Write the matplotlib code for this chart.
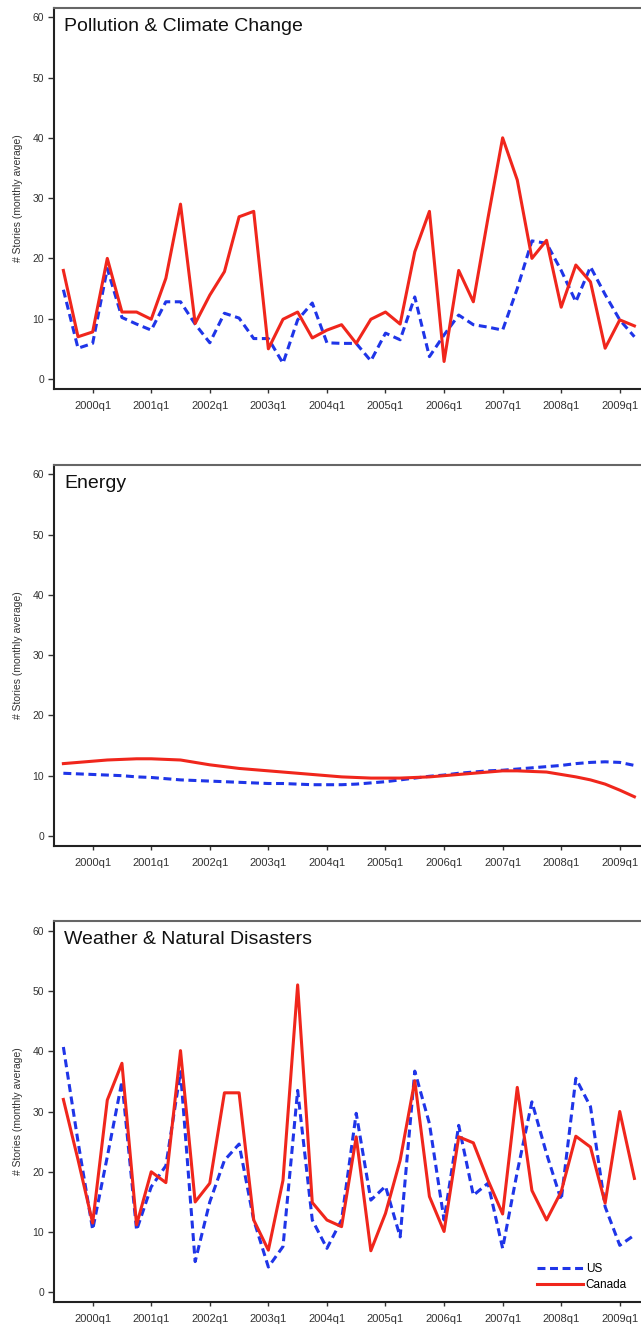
import numpy as np
import matplotlib
matplotlib.use("Agg")
import matplotlib.pyplot as plt

plt.rcParams['font.family'] = ['Liberation Sans', 'DejaVu Sans']

# quarters, 0 = 2000q1 (1999q3 .. 2009q2)
quarters = np.arange(-2, 38)
tick_pos = [0, 4, 8, 12, 16, 20, 24, 28, 32, 36]
tick_labels = ['2000q1', '2001q1', '2002q1', '2003q1', '2004q1',
               '2005q1', '2006q1', '2007q1', '2008q1', '2009q1']

titles = ['Pollution & Climate Change', 'Energy', 'Weather & Natural Disasters']

pollution_us = [14.8, 5.1, 5.9, 18.3, 10.2, 9.1, 8.1, 12.8, 12.8, 9.1,
                6.0, 10.9, 10.1, 6.7, 6.7, 2.6, 9.8, 12.6, 6.0, 5.9,
                5.9, 3.0, 7.6, 6.5, 13.6, 3.7, 7.3, 10.6, 9.0, 8.6,
                8.1, 15.0, 22.9, 22.5, 18.0, 12.8, 18.6, 14.0, 9.8, 7.0]
pollution_ca = [18.0, 7.0, 7.8, 20.0, 11.1, 11.1, 9.9, 16.7, 29.0, 9.2,
                13.9, 17.8, 26.9, 27.8, 5.0, 9.9, 11.1, 6.8, 8.1, 9.0,
                5.9, 9.9, 11.1, 9.1, 21.1, 27.8, 2.9, 18.0, 12.8, 26.7,
                40.0, 33.0, 20.0, 23.0, 11.9, 18.9, 16.1, 5.1, 9.8, 8.8]

energy_us = [10.4, 10.3, 10.2, 10.1, 10.0, 9.8, 9.7, 9.5, 9.3, 9.2,
             9.1, 9.0, 8.9, 8.8, 8.7, 8.7, 8.6, 8.5, 8.5, 8.5,
             8.6, 8.8, 9.0, 9.3, 9.6, 9.9, 10.1, 10.4, 10.6, 10.8,
             10.9, 11.1, 11.3, 11.5, 11.7, 12.0, 12.2, 12.3, 12.2, 11.7]
energy_ca = [12.0, 12.2, 12.4, 12.6, 12.7, 12.8, 12.8, 12.7, 12.6, 12.2,
             11.8, 11.5, 11.2, 11.0, 10.8, 10.6, 10.4, 10.2, 10.0, 9.8,
             9.7, 9.6, 9.6, 9.6, 9.7, 9.8, 10.0, 10.2, 10.4, 10.6,
             10.8, 10.8, 10.7, 10.6, 10.2, 9.8, 9.3, 8.6, 7.6, 6.5]

weather_us = [40.7, 25.0, 10.4, 22.5, 35.0, 10.3, 17.5, 21.0, 36.6, 5.1,
              15.0, 21.9, 24.6, 12.0, 4.2, 7.6, 33.5, 12.0, 7.3, 12.0,
              29.7, 15.3, 17.6, 9.2, 36.7, 28.0, 12.0, 27.7, 16.1, 18.1,
              7.3, 20.0, 31.6, 23.0, 15.3, 35.5, 30.8, 14.2, 7.8, 9.5]
weather_ca = [32.0, 22.0, 11.5, 31.9, 38.0, 11.2, 20.0, 18.2, 40.1, 15.0,
              18.1, 33.1, 33.1, 12.0, 7.0, 18.6, 51.0, 14.9, 12.0, 10.9,
              25.8, 6.9, 13.1, 21.9, 35.1, 15.9, 10.1, 25.8, 24.8, 18.6,
              13.0, 34.0, 16.9, 12.0, 16.7, 25.9, 24.1, 14.8, 30.0, 18.9]

us_series = [pollution_us, energy_us, weather_us]
ca_series = [pollution_ca, energy_ca, weather_ca]

red = '#f0261c'
blue = '#1f35e8'

fig = plt.figure(figsize=(6.41, 13.24), dpi=100)

W, H = 641.0, 1324.0
left_px = 54
width_px = 593
height_px = 381
bottoms_px = [388.6, 845.6, 1302.0]

for k in range(3):
    ax = fig.add_axes([left_px / W, 1 - bottoms_px[k] / H, width_px / W, height_px / H])
    ax.plot(quarters, us_series[k], color=blue, lw=2.2,
            linestyle=(0, (2.6, 1.5)), label='US')
    ax.plot(quarters, ca_series[k], color=red, lw=2.2, label='Canada')

    ax.set_xlim(-2.64, 37.86)
    ax.set_ylim(-1.6, 61.6)
    ax.set_yticks([0, 10, 20, 30, 40, 50, 60])
    ax.set_xticks(tick_pos)
    ax.set_xticklabels(tick_labels)
    ax.tick_params(axis='y', labelsize=7.5, length=4, width=1, pad=3, colors='#333333')
    ax.tick_params(axis='x', labelsize=8, length=3, width=1, pad=6, colors='#333333')

    for s in ['left', 'bottom']:
        ax.spines[s].set_linewidth(1.5)
        ax.spines[s].set_color('#222222')
    ax.spines['top'].set_linewidth(1.5)
    ax.spines['top'].set_color('#666666')
    ax.spines['right'].set_visible(False)

    ax.set_ylabel('# Stories (monthly average)', fontsize=7.5, color='#333333')
    ax.yaxis.set_label_coords(-0.052, 0.5)

    ax.text(0.0169, 0.951, titles[k], transform=ax.transAxes,
            fontsize=14, color='#111111', ha='left', va='center')

    if k == 2:
        ax.legend(loc='lower right', bbox_to_anchor=(0.966, 0.028), frameon=False,
                  fontsize=8.5, handlelength=3.9, handletextpad=0.25,
                  labelspacing=0.35, borderpad=0, borderaxespad=0)

fig.savefig('out.png', dpi=100, facecolor='white')
